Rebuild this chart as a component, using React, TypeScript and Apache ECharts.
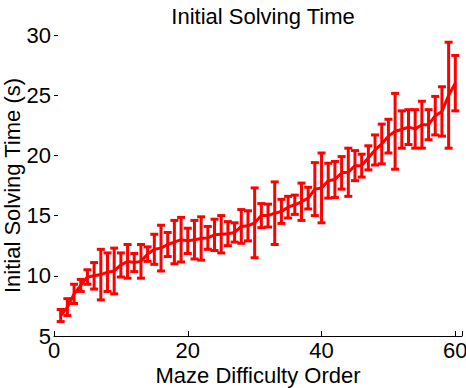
import React, { useEffect, useRef } from "react";
import * as echarts from "echarts";

const order: number[] = Array.from({ length: 60 }, (_, i) => i + 1);
const meanTime: number[] = [
  6.7, 7.4, 8.5, 9.2, 9.9, 10.0, 10.1, 10.3, 10.4, 10.9,
  11.2, 11.1, 11.2, 11.8, 12.2, 12.3, 12.6, 12.8, 13.0, 12.9,
  13.0, 13.1, 13.15, 13.4, 13.45, 13.5, 13.6, 14.1, 14.15, 14.4,
  15.0, 15.0, 15.2, 15.35, 15.7, 15.9, 16.15, 16.45, 17.2, 17.3,
  17.9, 18.0, 18.55, 18.6, 19.15, 19.15, 19.8, 20.45, 20.95, 21.6,
  22.0, 22.15, 22.35, 22.2, 22.55, 22.55, 23.3, 23.65, 25.0, 26.0,
];
const errTime: number[] = [
  0.5, 0.7, 0.8, 0.5, 0.6, 1.1, 2.1, 1.6, 1.9, 1.0,
  1.4, 0.75, 1.4, 0.6, 1.25, 1.9, 1.0, 1.8, 1.85, 1.05,
  1.6, 1.8, 0.95, 1.3, 1.55, 1.0, 0.8, 1.4, 1.25, 2.9,
  1.0, 0.95, 2.6, 1.0, 0.9, 0.8, 1.55, 0.9, 2.2, 2.9,
  1.45, 1.5, 1.35, 2.0, 1.25, 0.95, 1.0, 1.25, 1.65, 1.4,
  3.15, 1.55, 1.45, 1.6, 1.95, 1.25, 1.6, 2.05, 4.4, 2.3,
];
const xTicks: number[] = [0, 20, 40, 60];
const yTicks: number[] = [5, 10, 15, 20, 25, 30];

const FONT = "Liberation Sans";
const RED = "#ff0000";
const FS = 22;

export default function App() {
  const ref = useRef<HTMLDivElement>(null);
  useEffect(() => {
    if (!ref.current) return;
    const chart = echarts.init(ref.current, null, { renderer: "svg" });
    const lineData = order.map((x, i) => [x, meanTime[i]]);
    const errData = order.map((x, i) => [x, meanTime[i] - errTime[i], meanTime[i] + errTime[i]]);
    chart.setOption({
      animation: false,
      backgroundColor: "#ffffff",
      textStyle: { fontFamily: FONT },
      title: {
        text: "Initial Solving Time",
        left: 258,
        top: 0,
        textAlign: "center",
        textStyle: { fontFamily: FONT, fontSize: FS, fontWeight: "normal", color: "#000" },
      },
      grid: {
        left: 54,
        right: 4,
        top: 35,
        bottom: 52,
        containLabel: false,
        outerBoundsMode: "none",
      },
      xAxis: {
        type: "value",
        min: 0,
        max: 61,
        interval: 20,
        name: "Maze Difficulty Order",
        nameLocation: "middle",
        nameGap: 28,
        nameMoveOverlap: false,
        nameTextStyle: { fontFamily: FONT, fontSize: FS, color: "#000" },
        axisLine: { show: true, lineStyle: { color: "#000", width: 1 } },
        axisTick: { show: true, inside: true, length: 5, lineStyle: { color: "#000" } },
        axisLabel: {
          fontFamily: FONT,
          fontSize: FS,
          color: "#000",
          margin: 3,
          formatter: (v: number) => (xTicks.includes(v) ? String(v) : ""),
        },
        splitLine: { show: false },
      },
      yAxis: {
        type: "value",
        min: 5,
        max: 30,
        interval: 5,
        name: "Initial Solving Time (s)",
        nameLocation: "middle",
        nameGap: 31,
        nameMoveOverlap: false,
        nameTextStyle: { fontFamily: FONT, fontSize: FS, color: "#000" },
        axisLine: { show: false },
        axisTick: { show: true, inside: true, length: 4, lineStyle: { color: "#000" } },
        axisLabel: {
          fontFamily: FONT,
          fontSize: FS,
          color: "#000",
          margin: 3,
          formatter: (v: number) => (yTicks.includes(v) ? String(v) : ""),
        },
        splitLine: { show: false },
      },
      series: [
        {
          type: "custom",
          data: errData,
          z: 3,
          renderItem: (params: any, api: any) => {
            const x = api.value(0);
            const lo = api.coord([x, api.value(1)]);
            const hi = api.coord([x, api.value(2)]);
            const hw = 4;
            const st = { stroke: RED, lineWidth: 3 };
            return {
              type: "group",
              children: [
                { type: "line", shape: { x1: lo[0], y1: lo[1], x2: hi[0], y2: hi[1] }, style: st },
                { type: "line", shape: { x1: lo[0] - hw, y1: lo[1], x2: lo[0] + hw, y2: lo[1] }, style: st },
                { type: "line", shape: { x1: hi[0] - hw, y1: hi[1], x2: hi[0] + hw, y2: hi[1] }, style: st },
              ],
            };
          },
        },
        {
          type: "line",
          data: lineData,
          showSymbol: false,
          symbol: "none",
          z: 4,
          lineStyle: { color: RED, width: 3 },
          itemStyle: { color: RED },
        },
      ],
    });
    return () => chart.dispose();
  }, []);
  return (
    <div
      ref={ref}
      style={{ position: "fixed", left: 0, top: 0, width: 466, height: 388, background: "#fff" }}
    />
  );
}
